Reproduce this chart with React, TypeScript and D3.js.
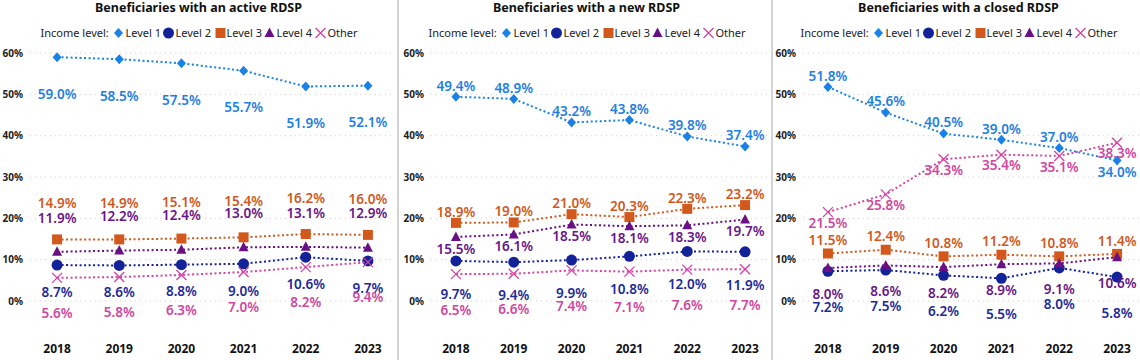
import * as d3 from "d3";

const years = ["2018", "2019", "2020", "2021", "2022", "2023"];
const seriesNames = ["Level 1", "Level 2", "Level 3", "Level 4", "Other"];
const yTicks = [0, 10, 20, 30, 40, 50, 60];

// active RDSP
const activeL1 = [59.0, 58.5, 57.5, 55.7, 51.9, 52.1];
const activeL2 = [8.7, 8.6, 8.8, 9.0, 10.6, 9.7];
const activeL3 = [14.9, 14.9, 15.1, 15.4, 16.2, 16.0];
const activeL4 = [11.9, 12.2, 12.4, 13.0, 13.1, 12.9];
const activeOther = [5.6, 5.8, 6.3, 7.0, 8.2, 9.4];

// new RDSP
const newL1 = [49.4, 48.9, 43.2, 43.8, 39.8, 37.4];
const newL2 = [9.7, 9.4, 9.9, 10.8, 12.0, 11.9];
const newL3 = [18.9, 19.0, 21.0, 20.3, 22.3, 23.2];
const newL4 = [15.5, 16.1, 18.5, 18.1, 18.3, 19.7];
const newOther = [6.5, 6.6, 7.4, 7.1, 7.6, 7.7];

// closed RDSP
const closedL1 = [51.8, 45.6, 40.5, 39.0, 37.0, 34.0];
const closedL2 = [7.2, 7.5, 6.2, 5.5, 8.0, 5.8];
const closedL3 = [11.5, 12.4, 10.8, 11.2, 10.8, 11.4];
const closedL4 = [8.0, 8.6, 8.2, 8.9, 9.1, 10.6];
const closedOther = [21.5, 25.8, 34.3, 35.4, 35.1, 38.3];

const colors = ["#1a82e6", "#14229a", "#d2581c", "#6a1085", "#d543a2"];
const labelColors = ["#1d7fe2", "#1a2a98", "#d0581f", "#68158a", "#d0469f"];

const FONT = "'Segoe UI', 'Noto Sans', sans-serif";

// label vertical offsets (px) relative to the marker, per series
const panels = [
  {
    title: "Beneficiaries with an active RDSP",
    data: [activeL1, activeL2, activeL3, activeL4, activeOther],
    range: [26, 399],
    labelDy: [[37], [27], [-36], [-34], [35]],
  },
  {
    title: "Beneficiaries with a new RDSP",
    data: [newL1, newL2, newL3, newL4, newOther],
    range: [427, 774],
    labelDy: [[-11], [33], [-11], [12], [36]],
  },
  {
    title: "Beneficiaries with a closed RDSP",
    data: [closedL1, closedL2, closedL3, closedL4, closedOther],
    range: [799, 1146],
    labelDy: [[-11, -11, -11, -11, -11, 12], [36], [-13], [26], [11]],
  },
];

const dividers = [398, 772];

const y = d3.scaleLinear().domain([0, 60]).range([301, 53]);

const Marker = ({ i, x, yy }: { i: number; x: number; yy: number }) => {
  const c = colors[i];
  if (i === 0)
    return (
      <path
        d={`M${x},${yy - 5}L${x + 4.5},${yy}L${x},${yy + 5}L${x - 4.5},${yy}Z`}
        fill={c}
      />
    );
  if (i === 1) return <circle cx={x} cy={yy} r={5.5} fill={c} />;
  if (i === 2)
    return <rect x={x - 5} y={yy - 5} width={10} height={10} fill={c} />;
  if (i === 3)
    return (
      <path
        d={`M${x},${yy - 5.5}L${x + 5},${yy + 4}L${x - 5},${yy + 4}Z`}
        fill={c}
      />
    );
  return (
    <path
      d={`M${x - 5},${yy - 5}L${x + 5},${yy + 5}M${x - 5},${yy + 5}L${x + 5},${yy - 5}`}
      stroke={c}
      strokeWidth={1.3}
      fill="none"
    />
  );
};

const legendOffsets = [
  [78, 85],
  [128, 135],
  [180, 186],
  [229, 236],
  [280, 287],
];

const Panel = ({ p }: { p: (typeof panels)[number] }) => {
  const x = d3.scalePoint<string>().domain(years).range(p.range as [number, number]).padding(0.5);
  const gx0 = p.range[0] + 4;
  const gx1 = p.range[1] - 6;
  const cx = (p.range[0] + p.range[1]) / 2 - 14;
  const lx = cx - 158;
  const line = d3
    .line<number>()
    .x((_, j) => x(years[j])!)
    .y((d) => y(d));

  return (
    <g>
      <text
        x={cx}
        y={8}
        dy="0.35em"
        textAnchor="middle"
        fontWeight="bold"
        fontSize={12.5}
        fill="#111"
      >
        {p.title}
      </text>

      {/* legend */}
      <g transform={`translate(${lx},33)`} fontSize={11} fill="#222">
        <text x={0} y={0} dy="0.35em">
          Income level:
        </text>
        {seriesNames.map((n, i) => (
          <g key={n}>
            <Marker i={i} x={legendOffsets[i][0]} yy={0} />
            <text x={legendOffsets[i][1]} y={0} dy="0.35em">
              {n}
            </text>
          </g>
        ))}
      </g>

      {/* grid + y ticks */}
      {yTicks.map((t) => (
        <g key={t}>
          <line
            x1={gx0}
            x2={gx1}
            y1={y(t)}
            y2={y(t)}
            stroke="#cfcfcf"
            strokeDasharray="1 4"
          />
          <text
            x={gx0 - 7}
            y={y(t)}
            dy="0.35em"
            textAnchor="end"
            fontSize={10}
            fontWeight="bold"
            fill="#222"
          >
            {t}%
          </text>
        </g>
      ))}

      {/* x labels */}
      {years.map((yr) => (
        <text
          key={yr}
          x={x(yr)}
          y={349}
          dy="0.35em"
          textAnchor="middle"
          fontSize={12}
          fontWeight="bold"
          fill="#111"
        >
          {yr}
        </text>
      ))}

      {/* series */}
      {p.data.map((vals, i) => (
        <g key={i}>
          <path
            d={line(vals)!}
            fill="none"
            stroke={colors[i]}
            strokeWidth={2}
            strokeDasharray="2 2.5"
          />
          {vals.map((v, j) => (
            <Marker key={j} i={i} x={x(years[j])!} yy={y(v)} />
          ))}
        </g>
      ))}

      {/* data labels */}
      {p.data.map((vals, i) =>
        vals.map((v, j) => {
          const dys = p.labelDy[i];
          const dy = dys.length > 1 ? dys[j] : dys[0];
          return (
            <text
              key={`${i}-${j}`}
              x={x(years[j])}
              y={y(v) + dy}
              dy="0.35em"
              textAnchor="middle"
              fontSize={13.5}
              fontWeight={600}
              fill={labelColors[i]}
            >
              {v.toFixed(1)}%
            </text>
          );
        })
      )}
    </g>
  );
};

export default function App() {
  return (
    <svg
      width={1140}
      height={360}
      style={{ position: "absolute", left: 0, top: 0, background: "#fff" }}
      fontFamily={FONT}
    >
      <rect width={1140} height={360} fill="#fff" />
      {dividers.map((d) => (
        <line key={d} x1={d} x2={d} y1={0} y2={360} stroke="#a8a8a8" />
      ))}
      {panels.map((p) => (
        <Panel key={p.title} p={p} />
      ))}
    </svg>
  );
}
